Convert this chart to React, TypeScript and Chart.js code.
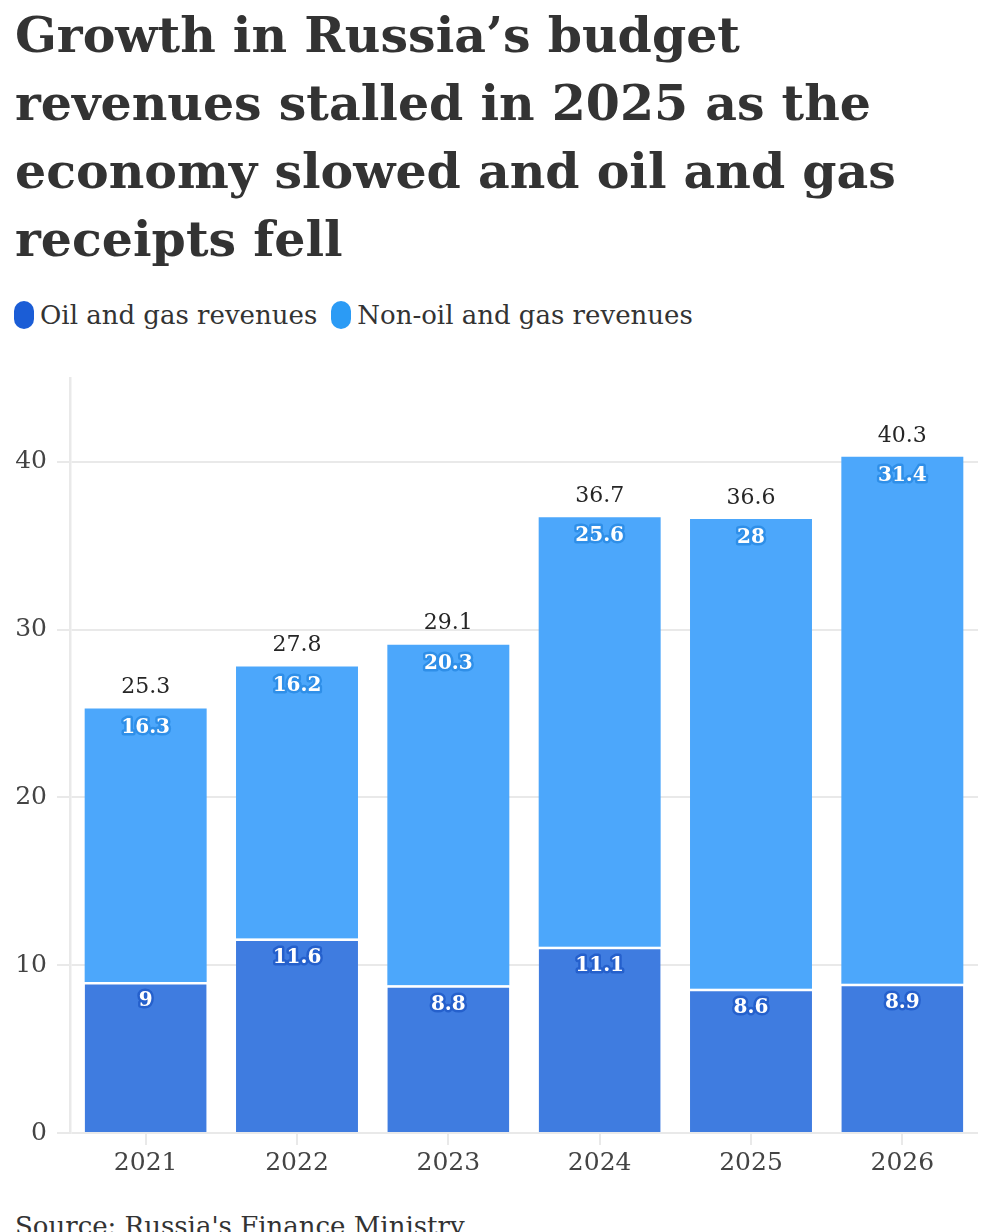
import React, { useEffect, useRef } from "react";
import { Chart, registerables } from "chart.js";

Chart.register(...registerables);

const titleLines = [
  "Growth in Russia\u2019s budget",
  "revenues stalled in 2025 as the",
  "economy slowed and oil and gas",
  "receipts fell",
];
const years = ["2021", "2022", "2023", "2024", "2025", "2026"];
const oilGas = [9, 11.6, 8.8, 11.1, 8.6, 8.9];
const nonOilGas = [16.3, 16.2, 20.3, 25.6, 28, 31.4];
const totals = [25.3, 27.8, 29.1, 36.7, 36.6, 40.3];
const yTicks = [0, 10, 20, 30, 40];
const seriesNames = ["Oil and gas revenues", "Non-oil and gas revenues"];

const OIL_COLOR = "#3f7ce0";
const NONOIL_COLOR = "#4ca7fb";
const OIL_LEGEND = "#1b5dd6";
const NONOIL_LEGEND = "#2b9bf5";
const OIL_STROKE = "#2560cc";
const NONOIL_STROKE = "#2f8fe8";
const TEXT = "#333333";
const GRID = "#e9e9e9";
const SERIF = "'DejaVu Serif', serif";

const labelPlugin = {
  id: "barLabels",
  afterDatasetsDraw(chart: any) {
    const ctx = chart.ctx;
    ctx.save();
    ctx.textAlign = "center";
    ctx.textBaseline = "middle";
    ctx.lineJoin = "round";
    chart.data.datasets.forEach((ds: any, di: number) => {
      const meta = chart.getDatasetMeta(di);
      meta.data.forEach((bar: any, i: number) => {
        const v = ds.data[i];
        ctx.font = `bold 20px ${SERIF}`;
        ctx.lineWidth = 5;
        ctx.strokeStyle = di === 0 ? OIL_STROKE : NONOIL_STROKE;
        const y = bar.y + 19;
        ctx.strokeText(String(v), bar.x, y);
        ctx.fillStyle = "#ffffff";
        ctx.fillText(String(v), bar.x, y);
        if (di === chart.data.datasets.length - 1) {
          ctx.font = `22px ${SERIF}`;
          ctx.fillStyle = "#262626";
          ctx.fillText(String(totals[i]), bar.x, bar.y - 21);
        }
      });
    });
    ctx.restore();
  },
};

function BarChart() {
  const ref = useRef<HTMLCanvasElement | null>(null);
  useEffect(() => {
    if (!ref.current) return;
    const chart = new Chart(ref.current, {
      type: "bar",
      data: {
        labels: years,
        datasets: [
          {
            label: seriesNames[0],
            data: oilGas,
            backgroundColor: OIL_COLOR,
            borderColor: "#ffffff",
            borderWidth: { top: 2.5, left: 0, right: 0, bottom: 0 },
            borderSkipped: false,
            barPercentage: 0.806,
            categoryPercentage: 1,
          },
          {
            label: seriesNames[1],
            data: nonOilGas,
            backgroundColor: NONOIL_COLOR,
            borderWidth: 0,
            barPercentage: 0.806,
            categoryPercentage: 1,
          },
        ],
      },
      options: {
        animation: false,
        responsive: true,
        maintainAspectRatio: false,
        layout: { padding: { top: 11, right: 3, bottom: 12, left: 0 } },
        plugins: {
          legend: { display: false },
          tooltip: { enabled: false },
        },
        scales: {
          x: {
            stacked: true,
            afterFit: (s: any) => {
              s.height = 50;
            },
            grid: {
              display: true,
              offset: false,
              drawOnChartArea: false,
              drawTicks: true,
              tickLength: 12,
              color: GRID,
              lineWidth: 2,
            },
            border: { display: false },
            ticks: {
              padding: 3,
              color: "#444",
              font: { family: SERIF, size: 25 },
            },
          },
          y: {
            stacked: true,
            min: 0,
            max: 45,
            afterFit: (s: any) => {
              s.width = 62;
            },
            afterBuildTicks: (s: any) => {
              s.ticks = yTicks.map((v) => ({ value: v }));
            },
            grid: {
              color: GRID,
              lineWidth: 2,
              tickLength: 13,
            },
            border: { display: true, color: GRID, width: 2.5 },
            ticks: {
              padding: 10,
              color: "#444",
              font: { family: SERIF, size: 25 },
            },
          },
        },
      },
      plugins: [labelPlugin],
    });
    return () => chart.destroy();
  }, []);
  return (
    <div style={{ position: "relative", width: "100%", height: 842, marginTop: 23 }}>
      <canvas ref={ref} />
    </div>
  );
}

export default function App() {
  const legendColors = [OIL_LEGEND, NONOIL_LEGEND];
  return (
    <div style={{ fontFamily: SERIF, color: TEXT }}>
      <div
        style={{
          marginTop: -7,
          paddingLeft: 7,
          fontWeight: "bold",
          fontSize: 49,
          lineHeight: "68px",
          whiteSpace: "nowrap",
        }}
      >
        {titleLines.map((l, i) => (
          <div key={i}>{l}</div>
        ))}
      </div>
      <div
        style={{
          marginTop: 27,
          paddingLeft: 6,
          display: "flex",
          alignItems: "center",
          fontSize: 26,
          lineHeight: "30px",
          height: 30,
        }}
      >
        {seriesNames.map((n, i) => (
          <div key={i} style={{ display: "flex", alignItems: "center", marginRight: 14 }}>
            <span
              style={{
                display: "inline-block",
                width: 20,
                height: 28,
                borderRadius: 10,
                background: legendColors[i],
                marginRight: 6,
              }}
            />
            <span>{n}</span>
          </div>
        ))}
      </div>
      <BarChart />
      <div style={{ marginTop: 16, paddingLeft: 7, fontSize: 26, lineHeight: "30px" }}>
        Source: Russia's Finance Ministry
      </div>
    </div>
  );
}
